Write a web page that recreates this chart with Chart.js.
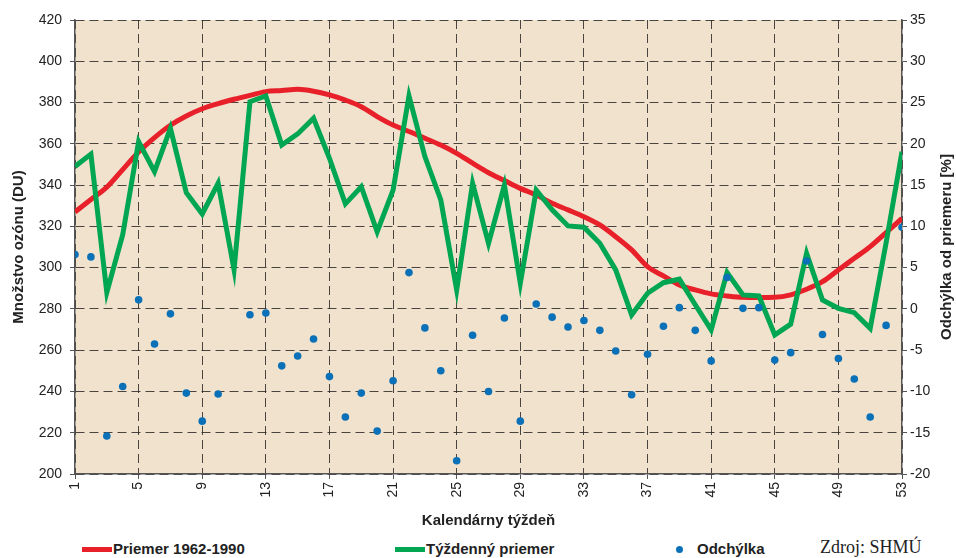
<!DOCTYPE html>
<html>
<head>
<meta charset="utf-8">
<script src="https://cdn.jsdelivr.net/npm/chart.js@4/dist/chart.umd.min.js"></script>
<style>
  html, body { margin: 0; padding: 0; background: #fff; }
  #wrap { position: relative; width: 956px; height: 558px; font-family: "Liberation Sans", Arial, sans-serif; }
  .leg { position: absolute; top: 540px; font-weight: bold; font-size: 15px; color: #222; white-space: nowrap; }
  .bar { position: absolute; width: 30px; height: 5px; }
  .dot { position: absolute; width: 7px; height: 7px; border-radius: 50%; background: #0a70b8; }
  #src { position: absolute; top: 537px; left: 820px; font-family: "Liberation Serif", "Times New Roman", serif; font-size: 18px; color: #222; }
</style>
</head>
<body>
<div id="wrap">
  <canvas id="ozon" width="956" height="533"></canvas>
  <div class="bar" style="left:82px;top:547px;background:#e8202a"></div>
  <div class="leg" style="left:113px">Priemer 1962-1990</div>
  <div class="bar" style="left:395px;top:547px;background:#00a651"></div>
  <div class="leg" style="left:426px">Týždenný priemer</div>
  <div class="dot" style="left:676px;top:546px"></div>
  <div class="leg" style="left:697px">Odchýlka</div>
  <div id="src">Zdroj: SHMÚ</div>
</div>
<script>
// --- DATA ---
const weeks = Array.from({ length: 53 }, (_, i) => i + 1);

// dlhodobý priemer 1962-1990 (DU)
const normal = [327, 333, 339, 347.5, 356, 363, 369, 373.5, 377, 379.5, 381.6, 383.5, 385.3, 385.8, 386.4, 385.5, 383.7, 381.2, 378,
  373.2, 369.1, 366, 362.7, 359.4, 355.4, 350.6, 346, 342.2, 338.4, 335.2, 331.2, 328, 324.7, 320.7, 315, 308.6,
  300.5, 296, 291.6, 289.2, 287.3, 286.3, 285.6, 285.5, 285.6, 286.8, 289.5, 293.2, 298.9, 304.5, 310.2, 317, 323.9];

// týždenný priemer (DU)
const weekly = [349, 355, 288, 316, 361, 346.5, 367.5, 336.3, 326, 340.9, 299, 380.4, 383.2, 359.4, 364.8, 372.4, 353, 330.9, 339.2,
  317.4, 337.6, 383.2, 353.8, 332.8, 289.2, 340.9, 311.8, 340, 292.4, 337.6, 328, 320.2, 319.6, 311.8, 298.9, 277.1,
  287.6, 292.7, 294.4, 282, 269.8, 297.6, 286.8, 286.3, 267.4, 272.6, 307, 284.3, 280.3, 278.2, 270.6, 312, 356.2];

// odchýlka od priemeru (%), týždeň 11 mimo rozsahu grafu
const deviation = [6.6, 6.3, -15.4, -9.4, 1.1, -4.25, -0.6, -10.2, -13.6, -10.3, null, -0.7, -0.5, -6.9, -5.7, -3.65, -8.2, -13.1, -10.2,
  -14.8, -8.7, 4.4, -2.3, -7.5, -18.4, -3.2, -10.0, -1.1, -13.6, 0.6, -1.0, -2.2, -1.4, -2.6, -5.1, -10.4,
  -5.5, -2.1, 0.15, -2.6, -6.3, 3.8, 0.07, 0.15, -6.2, -5.3, 5.8, -3.1, -6.0, -8.5, -13.1, -2.0, 9.9];

const toXY = arr => weeks.map((w, i) => ({ x: w, y: arr[i] }));

const gridCol = 'rgba(45,40,38,0.85)';
const axisCol = '#555';
const tickFont = { family: '"Liberation Sans", Arial, sans-serif', size: 14 };
const titleFont = { family: '"Liberation Sans", Arial, sans-serif', size: 15, weight: 'bold' };

// --- PLUGINS ---
const plotBg = {
  id: 'plotBg',
  beforeDraw(chart) {
    const { ctx, chartArea: a } = chart;
    ctx.save();
    ctx.fillStyle = '#f0e2cd';
    ctx.fillRect(a.left, a.top, a.right - a.left, a.bottom - a.top);
    ctx.restore();
  }
};

// pravý nadpis osi číta sa zdola nahor
const rightTitle = {
  id: 'rightTitle',
  afterDraw(chart) {
    const { ctx } = chart;
    const s = chart.scales.y2;
    ctx.save();
    ctx.translate(947, (s.top + s.bottom) / 2);
    ctx.rotate(-Math.PI / 2);
    ctx.font = 'bold 15px "Liberation Sans", Arial, sans-serif';
    ctx.fillStyle = '#222';
    ctx.textAlign = 'center';
    ctx.textBaseline = 'middle';
    ctx.fillText('Odchýlka od priemeru [%]', 0, 0);
    ctx.restore();
  }
};

new Chart(document.getElementById('ozon').getContext('2d'), {
  type: 'line',
  data: {
    datasets: [
      { label: 'Odchýlka', data: toXY(deviation), yAxisID: 'y2', showLine: false, pointRadius: 3.8,
        pointBackgroundColor: '#0a70b8', pointBorderWidth: 0 },
      { label: 'Týždenný priemer', data: toXY(weekly), yAxisID: 'y', borderColor: '#00a651', borderWidth: 5,
        pointRadius: 0, tension: 0, borderJoinStyle: 'miter' },
      { label: 'Priemer 1962-1990', data: toXY(normal), yAxisID: 'y', borderColor: '#e8202a', borderWidth: 5,
        pointRadius: 0, tension: 0.4, cubicInterpolationMode: 'monotone' }
    ]
  },
  options: {
    responsive: false,
    animation: false,
    layout: { padding: { top: 20, left: 0, right: 0, bottom: 0 } },
    plugins: { legend: { display: false }, tooltip: { enabled: false } },
    scales: {
      x: {
        type: 'linear', min: 1, max: 53,
        ticks: { stepSize: 4, minRotation: 90, maxRotation: 90, padding: 3, color: '#222', font: tickFont },
        grid: { color: gridCol, tickLength: 5, tickColor: axisCol, tickBorderDash: [] },
        border: { display: true, color: axisCol, width: 1.5, dash: [9, 5] },
        title: { display: true, text: 'Kalendárny týždeň', color: '#222', font: titleFont, padding: { top: 4, bottom: 3 } },
        afterFit: s => { s.height = 59; }
      },
      y: {
        position: 'left', min: 200, max: 420,
        ticks: { stepSize: 20, padding: 8, color: '#222', font: tickFont },
        grid: { color: gridCol, tickLength: 5, tickColor: axisCol, tickBorderDash: [] },
        border: { display: true, color: axisCol, width: 1.5, dash: [9, 5] },
        title: { display: true, text: 'Množstvo ozónu (DU)', color: '#222', font: titleFont, padding: { top: 10, bottom: 0 } },
        afterFit: s => { s.width = 75; }
      },
      y2: {
        position: 'right', min: -20, max: 35,
        ticks: { stepSize: 5, padding: 3, color: '#222', font: tickFont },
        grid: { drawOnChartArea: false, tickLength: 5, tickColor: axisCol },
        border: { display: true, color: axisCol, width: 1.5 },
        afterFit: s => { s.width = 54; }
      }
    }
  },
  plugins: [plotBg, rightTitle]
});
</script>
</body>
</html>
